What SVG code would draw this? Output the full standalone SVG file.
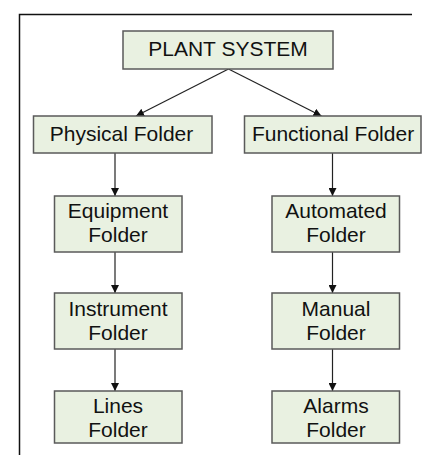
<svg xmlns="http://www.w3.org/2000/svg" width="422" height="455" viewBox="0 0 422 455">
<defs>
<marker id="ah" viewBox="0 0 10 10" refX="10" refY="5" markerWidth="8" markerHeight="8" markerUnits="userSpaceOnUse" orient="auto">
<path d="M0,0 L10,5 L0,10 z" fill="#111"/>
</marker>
<style>
.box{fill:#e9f1e1;stroke:#5a5a5a;stroke-width:1.5}
.t{font-family:"Liberation Sans",Arial,sans-serif;font-size:21px;fill:#111;text-anchor:middle}
.c{stroke:#222;stroke-width:1.2;fill:none;marker-end:url(#ah)}
</style>
</defs>
<rect width="422" height="455" fill="#fff"/>
<path d="M19.5,455 V14.5 H412" fill="none" stroke="#111" stroke-width="1.5"/>
<g id="connectors">
<line class="c" x1="228.5" y1="69" x2="136" y2="116"/>
<line class="c" x1="228.5" y1="69" x2="321.5" y2="116"/>
<line class="c" x1="115" y1="153" x2="115" y2="196"/>
<line class="c" x1="332.5" y1="153" x2="332.5" y2="196"/>
<line class="c" x1="115" y1="252" x2="115" y2="293"/>
<line class="c" x1="332.5" y1="252" x2="332.5" y2="293"/>
<line class="c" x1="115" y1="349" x2="115" y2="391"/>
<line class="c" x1="332.5" y1="349" x2="332.5" y2="391"/>
</g>
<g id="plant-system"><rect class="box" x="123" y="31" width="210" height="38"/><text class="t" x="228" y="56">PLANT SYSTEM</text></g>
<g id="physical-folder"><rect class="box" x="33.5" y="116" width="178.5" height="37"/><text class="t" x="121.5" y="141">Physical Folder</text></g>
<g id="functional-folder"><rect class="box" x="244.5" y="116" width="176.5" height="37"/><text class="t" x="333" y="141">Functional Folder</text></g>
<g id="equipment-folder"><rect class="box" x="54.5" y="196" width="127.5" height="56"/><text class="t" x="118" y="218">Equipment</text><text class="t" x="118" y="242">Folder</text></g>
<g id="automated-folder"><rect class="box" x="272" y="196" width="127.5" height="56"/><text class="t" x="336" y="218">Automated</text><text class="t" x="336" y="242">Folder</text></g>
<g id="instrument-folder"><rect class="box" x="54.5" y="293" width="127.5" height="56"/><text class="t" x="118" y="316">Instrument</text><text class="t" x="118" y="340">Folder</text></g>
<g id="manual-folder"><rect class="box" x="272" y="293" width="127.5" height="56"/><text class="t" x="336" y="316">Manual</text><text class="t" x="336" y="340">Folder</text></g>
<g id="lines-folder"><rect class="box" x="54.5" y="391" width="127.5" height="52"/><text class="t" x="118" y="413">Lines</text><text class="t" x="118" y="437">Folder</text></g>
<g id="alarms-folder"><rect class="box" x="272" y="391" width="127.5" height="52"/><text class="t" x="336" y="413">Alarms</text><text class="t" x="336" y="437">Folder</text></g>
</svg>
